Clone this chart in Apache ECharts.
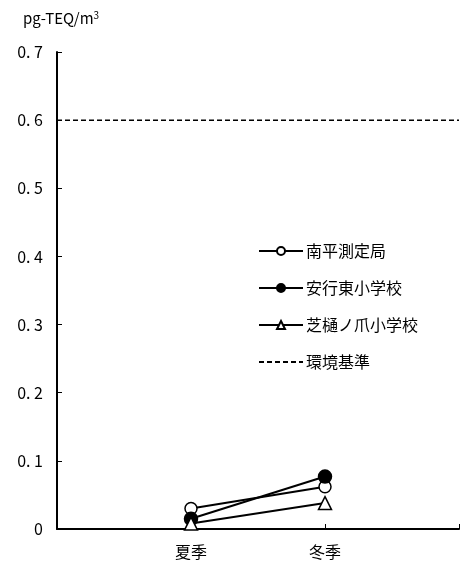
<!DOCTYPE html>
<html><head><meta charset="utf-8">
<script src="https://cdn.jsdelivr.net/npm/echarts@6/dist/echarts.min.js"></script>
<style>html,body{margin:0;padding:0;background:#fff}#c{width:462px;height:565px}</style>
</head><body><div id="c"></div>
<script>
const categories = ['', '夏季', '冬季', ''];
const nanpei = [null, 0.030, 0.062, null];
const angyo = [null, 0.015, 0.077, null];
const shibahi = [null, 0.008, 0.038, null];
const standard = [0.6, 0.6, 0.6, 0.6];
const yTicks = ['0', '0. 1', '0. 2', '0. 3', '0. 4', '0. 5', '0. 6', '0. 7'];

const F = '"Noto Sans CJK JP", "Noto Sans", sans-serif';
const chart = echarts.init(document.getElementById('c'), null, {renderer: 'canvas'});
chart.setOption({
  animation: false,
  backgroundColor: '#fff',
  title: {
    text: 'pg-TEQ/m{s|3}', left: 18, top: 5,
    textStyle: {fontFamily: F, fontSize: 15, fontWeight: 'normal', color: '#000',
      rich: {s: {fontFamily: F, fontSize: 10, color: '#000', verticalAlign: 'top', padding: [0,0,6,0]}}}
  },
  grid: {left: 57, right: 0, top: 52, bottom: 36, containLabel: false},
  legend: {
    orient: 'vertical', left: 253, top: 238, itemWidth: 44, itemHeight: 10, itemGap: 21,
    textStyle: {fontFamily: F, fontSize: 16, color: '#000', padding: [0,0,0,-2]},
    data: ['南平測定局', '安行東小学校', '芝樋ノ爪小学校', {name: '環境基準', itemStyle: {opacity: 0}}]
  },
  xAxis: {
    type: 'category', data: categories, boundaryGap: false,
    axisLine: {lineStyle: {color: '#000', width: 2}},
    axisTick: {inside: true, length: 5, lineStyle: {color: '#000'}},
    axisLabel: {fontFamily: F, fontSize: 16, color: '#000', margin: 15},
    splitLine: {show: false}
  },
  yAxis: {
    type: 'value', min: 0, max: 0.7, interval: 0.1,
    axisLine: {show: true, lineStyle: {color: '#000', width: 2}},
    axisTick: {show: true, inside: true, length: 5, lineStyle: {color: '#000'}},
    axisLabel: {fontFamily: F, fontSize: 16, color: '#000', margin: 14,
      formatter: function (v) { return yTicks[Math.round(v * 10)]; }},
    splitLine: {show: false}
  },
  series: [
    {name: '南平測定局', type: 'line', data: nanpei, symbol: 'circle', symbolSize: 12,
      lineStyle: {color: '#000', width: 2}, itemStyle: {color: '#fff', borderColor: '#000', borderWidth: 1.5}},
    {name: '安行東小学校', type: 'line', data: angyo, symbol: 'circle', symbolSize: 13,
      lineStyle: {color: '#000', width: 2}, itemStyle: {color: '#000', borderColor: '#000', borderWidth: 1.5}},
    {name: '芝樋ノ爪小学校', type: 'line', data: shibahi, symbol: 'triangle', symbolSize: 13,
      lineStyle: {color: '#000', width: 2}, itemStyle: {color: '#fff', borderColor: '#000', borderWidth: 1.5}},
    {name: '環境基準', type: 'line', data: standard, symbol: 'none', silent: true,
      lineStyle: {color: '#000', width: 1.5, type: [5, 3]}, itemStyle: {color: '#000'}}
  ]
});
</script></body></html>
